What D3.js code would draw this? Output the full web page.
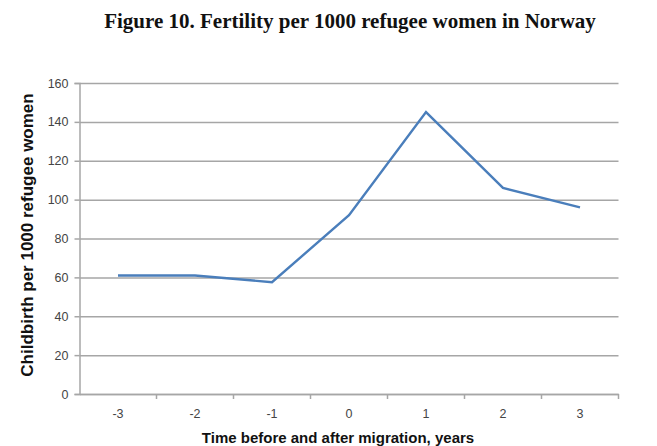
<!DOCTYPE html>
<html>
<head>
<meta charset="utf-8">
<script src="https://cdn.jsdelivr.net/npm/d3@7"></script>
<style>
  body { margin: 0; background: #fff; }
  svg text { font-family: "Liberation Sans", Arial, sans-serif; }
</style>
</head>
<body>
<div id="chart"></div>
<script>
const years = ["-3", "-2", "-1", "0", "1", "2", "3"];
const births = [61, 61, 57.5, 92, 145, 106, 96];
const yTicks = [0, 20, 40, 60, 80, 100, 120, 140, 160];

const width = 657, height = 446;
const margin = { top: 83, right: 38.5, bottom: 52, left: 79.5 };

const svg = d3.select("#chart").append("svg")
  .attr("width", width)
  .attr("height", height);

// title
svg.append("text")
  .attr("x", 350).attr("y", 28)
  .attr("text-anchor", "middle")
  .style("font-family", "'Liberation Serif', 'Times New Roman', serif")
  .style("font-weight", "bold")
  .style("font-size", "21px")
  .attr("fill", "#111")
  .text("Figure 10. Fertility per 1000 refugee women in Norway");

const x = d3.scaleBand()
  .domain(years)
  .range([margin.left, width - margin.right]);

const y = d3.scaleLinear()
  .domain([0, 160])
  .range([height - margin.bottom, margin.top]);

// gridlines
const grid = svg.append("g")
  .attr("transform", `translate(${margin.left},0)`)
  .call(d3.axisLeft(y).tickValues(yTicks).tickSize(-(width - margin.left - margin.right)).tickFormat(""));
grid.select(".domain").remove();
grid.selectAll("line").attr("stroke", "#a6a6a6").attr("stroke-width", 1.5);

// y axis with labels
const yAxis = svg.append("g")
  .attr("transform", `translate(${margin.left},0)`)
  .call(d3.axisLeft(y).tickValues(yTicks).tickSize(5).tickPadding(6));
yAxis.select(".domain").attr("stroke", "#a6a6a6").attr("stroke-width", 1.5);
yAxis.selectAll("line").attr("stroke", "#a6a6a6").attr("stroke-width", 1.5);
yAxis.selectAll("text").attr("fill", "#444").style("font-size", "12.5px");

// x axis: ticks at category boundaries
const xAxis = svg.append("g")
  .attr("transform", `translate(0,${height - margin.bottom})`)
  .call(d3.axisBottom(x).tickSize(0).tickPadding(15));
xAxis.select(".domain").attr("stroke", "#a6a6a6").attr("stroke-width", 1.5);
xAxis.selectAll("text").attr("fill", "#444").style("font-size", "12.5px");
xAxis.selectAll(".bound")
  .data(years.slice(1).concat(["end"]))
  .enter().append("line")
  .attr("x1", (d, i) => x(years[0]) + x.step() * (i + 1))
  .attr("x2", (d, i) => x(years[0]) + x.step() * (i + 1))
  .attr("y1", 0).attr("y2", 5)
  .attr("stroke", "#a6a6a6").attr("stroke-width", 1.5);

// line
const line = d3.line()
  .x((d, i) => x(years[i]) + x.bandwidth() / 2)
  .y(d => y(d));

svg.append("path")
  .datum(births)
  .attr("fill", "none")
  .attr("stroke", "#4a7ebb")
  .attr("stroke-width", 2.4)
  .attr("d", line);

// axis titles
svg.append("text")
  .attr("x", 338).attr("y", 443)
  .attr("text-anchor", "middle")
  .style("font-weight", "bold")
  .style("font-size", "15px")
  .attr("fill", "#111")
  .text("Time before and after migration, years");

svg.append("text")
  .attr("transform", "translate(33,235) rotate(-90)")
  .attr("text-anchor", "middle")
  .style("font-weight", "bold")
  .style("font-size", "17px")
  .attr("fill", "#111")
  .text("Childbirth per 1000 refugee women");
</script>
</body>
</html>
